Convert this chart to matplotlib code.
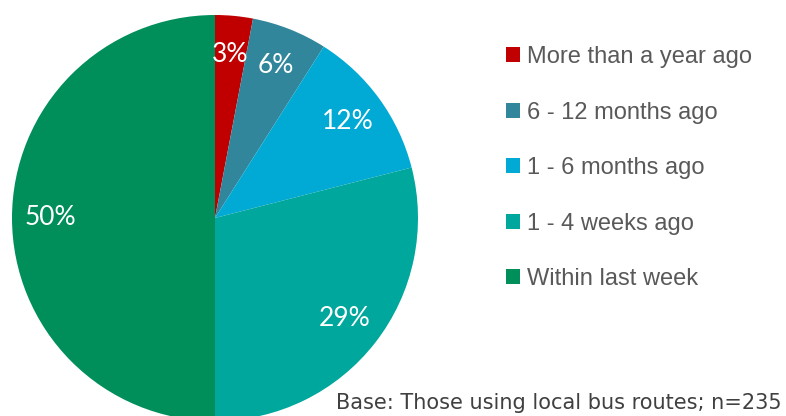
import matplotlib.pyplot as plt

# share of respondents by time since last local bus trip
categories = ["More than a year ago", "6 - 12 months ago", "1 - 6 months ago",
              "1 - 4 weeks ago", "Within last week"]
shares = [3, 6, 12, 29, 50]
colors = ["#C00000", "#31869B", "#00AAD5", "#00A79D", "#008F5B"]
base_note = "Base: Those using local bus routes; n=235"

fig = plt.figure(figsize=(7.86, 4.16), dpi=100)
ax = fig.add_axes([12 / 786, -5 / 416, 406 / 786, 406 / 416])

wedges, texts, autotexts = ax.pie(
    shares, colors=colors, startangle=90, counterclock=False,
    autopct="%1.0f%%", pctdistance=0.81, radius=1,
    textprops=dict(color="white", fontsize=19, family="Lato"),
)
ax.set_xlim(-1, 1)
ax.set_ylim(-1, 1)
ax.set_aspect("equal")
ax.axis("off")

leg = fig.legend(
    wedges, categories, loc="upper left", bbox_to_anchor=(506 / 786, 1 - 46 / 416),
    frameon=False, handlelength=0.6, handleheight=0.6,
    handletextpad=0.3, labelspacing=1.42, borderpad=0, borderaxespad=0,
    prop=dict(family="Liberation Sans", size=17),
)
for t in leg.get_texts():
    t.set_color("#595959")

fig.text(782 / 786, 3 / 416, base_note, ha="right", va="bottom",
         fontsize=15, family="DejaVu Sans", color="#404040")

fig.savefig("out.png", dpi=100)
